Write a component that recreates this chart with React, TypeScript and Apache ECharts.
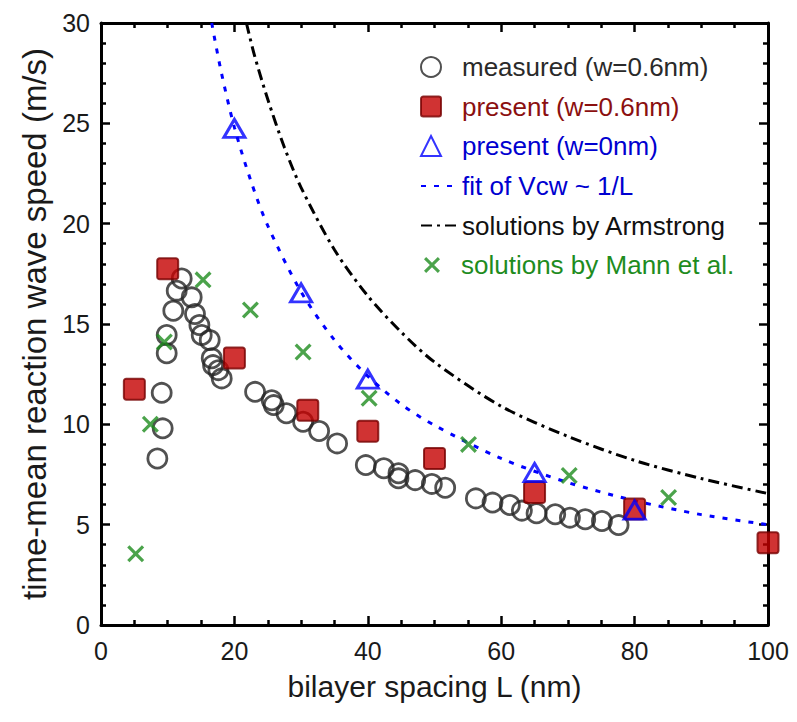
import React, { useEffect, useRef } from "react";
import * as echarts from "echarts";

const FONT = '"Liberation Sans", Arial, Helvetica, sans-serif';

// Measured wave speeds, w = 0.6 nm: [L (nm), V (m/s)]
const measured: [number, number][] = [
  [8.45, 8.3], [9.1, 11.57], [9.25, 9.8], [9.85, 14.45], [9.85, 13.54],
  [10.84, 15.66], [11.35, 16.66], [12.1, 17.27], [13.6, 16.33], [14.09, 15.5],
  [14.75, 14.95], [15.1, 14.45], [16.3, 14.2], [16.6, 13.29], [16.8, 12.95],
  [17.6, 12.7], [18.1, 12.29], [23.1, 11.62], [25.6, 11.2], [25.9, 10.96],
  [27.8, 10.55], [30.3, 10.13], [32.7, 9.67], [35.4, 9.05], [39.7, 7.97],
  [42.4, 7.81], [44.6, 7.56], [44.6, 7.31], [47.1, 7.22], [49.6, 7.03],
  [51.6, 6.84], [56.2, 6.31], [58.7, 6.1], [61.3, 5.98], [63.1, 5.7],
  [65.3, 5.57], [68.1, 5.52], [70.3, 5.35], [72.6, 5.27], [75.1, 5.18],
  [77.6, 4.98],
];

// Present model, w = 0.6 nm
const present06L = [5, 10, 20, 31, 40, 50, 65, 80, 100];
const present06V = [11.75, 17.75, 13.3, 10.7, 9.65, 8.3, 6.6, 5.78, 4.1];

// Present model, w = 0 nm
const present0L = [20, 30, 40, 65, 80];
const present0V = [24.75, 16.55, 12.25, 7.6, 5.73];

// Fit of Vcw ~ 1/L
const fitL = [16.6, 18, 20, 22.5, 25, 30, 35, 40, 45, 50, 60, 70, 80, 90, 100];
const fitV = [30, 27.6, 24.8, 22.1, 19.9, 16.6, 14.2, 12.4, 11.0, 9.95, 8.3, 7.1, 6.2, 5.5, 5.0];

// Solutions by Armstrong
const armL = [21.8, 23, 25, 27.5, 30, 35, 40, 45, 50, 60, 70, 80, 90, 100];
const armV = [30, 28.4, 26.2, 23.8, 21.8, 18.7, 16.4, 14.6, 13.1, 10.9, 9.4, 8.2, 7.3, 6.55];

// Solutions by Mann et al.
const mannL = [5.2, 7.4, 9.5, 15.3, 22.4, 30.3, 40.2, 55.1, 70.2, 85.1];
const mannV = [3.55, 10.0, 14.1, 17.2, 15.7, 13.6, 11.3, 9.0, 7.45, 6.35];

const xTicks = { min: 0, max: 100, interval: 20, minor: 4 };
const yTicks = { min: 0, max: 30, interval: 5, minor: 5 };

const zip = (a: number[], b: number[]) => a.map((v, i) => [v, b[i]]);

const NAMES = {
  measured: "measured (w=0.6nm)",
  p06: "present (w=0.6nm)",
  p0: "present (w=0nm)",
  fit: "fit of Vcw ~ 1/L",
  arm: "solutions by Armstrong",
  mann: "solutions by Mann et al.",
};

// Marker shapes
const SQUARE =
  "path://M2.5,0H19.5A2.5,2.5 0 0 1 22,2.5V19.5A2.5,2.5 0 0 1 19.5,22H2.5A2.5,2.5 0 0 1 0,19.5V2.5A2.5,2.5 0 0 1 2.5,0Z";
const CROSS =
  "path://M13.4,0L50,36.6L86.6,0L100,13.4L63.4,50L100,86.6L86.6,100L50,63.4L13.4,100L0,86.6L36.6,50L0,13.4Z";

const axisBase = () => ({
  type: "value" as const,
  axisLine: { show: true, onZero: false, lineStyle: { color: "#000", width: 3 } },
  axisTick: { show: true, inside: true, length: 9, lineStyle: { color: "#000", width: 2.5 } },
  minorTick: { show: true, length: 5, lineStyle: { color: "#000", width: 2.5 } },
  splitLine: { show: false },
  minorSplitLine: { show: false },
});

export default function App() {
  const ref = useRef<HTMLDivElement>(null);

  useEffect(() => {
    const chart = echarts.init(ref.current!, null, { renderer: "svg" });

    const xAxis = (pos: "bottom" | "top") => {
      const base = axisBase();
      return {
        ...base,
        position: pos,
        min: xTicks.min,
        max: xTicks.max,
        interval: xTicks.interval,
        minorTick: { ...base.minorTick, splitNumber: xTicks.minor },
        axisLabel: {
          show: pos === "bottom",
          fontSize: 25,
          color: "#1a1a1a",
          fontFamily: FONT,
          margin: 13,
        },
        ...(pos === "bottom"
          ? {
              name: "bilayer spacing L (nm)",
              nameLocation: "middle",
              nameGap: 46,
              nameTextStyle: { fontSize: 30, color: "#1a1a1a", fontFamily: FONT },
            }
          : {}),
      };
    };

    const yAxis = (pos: "left" | "right") => {
      const base = axisBase();
      return {
        ...base,
        position: pos,
        min: yTicks.min,
        max: yTicks.max,
        interval: yTicks.interval,
        minorTick: { ...base.minorTick, splitNumber: yTicks.minor },
        axisLabel: {
          show: pos === "left",
          fontSize: 25,
          color: "#1a1a1a",
          fontFamily: FONT,
          margin: 11,
        },
        ...(pos === "left"
          ? {
              name: "time-mean reaction wave speed (m/s)",
              nameLocation: "middle",
              nameGap: 50,
              nameTextStyle: { fontSize: 33, color: "#1a1a1a", fontFamily: FONT },
            }
          : {}),
      };
    };

    // One legend row per entry, so marker rows and line rows can use
    // different icon sizes while their texts stay aligned at x = 461.
    const legendRows = [
      { name: NAMES.measured, color: "#2a2a2a", kind: "marker" },
      { name: NAMES.p06, color: "#8b1010", kind: "marker" },
      { name: NAMES.p0, color: "#0000d0", kind: "marker" },
      { name: NAMES.fit, color: "#0000d0", kind: "line" },
      { name: NAMES.arm, color: "#111111", kind: "line" },
      { name: NAMES.mann, color: "#1e8c1e", kind: "cross" },
    ];
    const rowTops = [54, 93.5, 133, 173, 212.5, 252];
    const legend = legendRows.map((r, i) => {
      const isLine = r.kind === "line";
      const isCross = r.kind === "cross";
      return {
        orient: "vertical",
        left: isCross ? 424 : 420,
        top: rowTops[i],
        padding: 0,
        itemWidth: isLine ? 36 : isCross ? 16 : 20,
        itemHeight: isCross ? 16 : 20,
        selectedMode: false,
        textStyle: {
          fontSize: 26,
          lineHeight: 26,
          fontFamily: FONT,
          color: r.color,
          padding: isLine ? 0 : [0, 0, 0, 16],
        },
        data: [isLine ? { name: r.name, itemStyle: { opacity: 0 } } : { name: r.name }],
      };
    });

    const option = {
      animation: false,
      backgroundColor: "#fff",
      grid: { left: 101, right: 29, top: 23, bottom: 97, containLabel: false },
      xAxis: [xAxis("bottom"), xAxis("top")],
      yAxis: [yAxis("left"), yAxis("right")],
      legend,
      series: [
        {
          name: NAMES.measured,
          type: "scatter",
          data: measured,
          symbol: "circle",
          symbolSize: 19,
          itemStyle: { color: "transparent", borderColor: "#262626", borderWidth: 2.8 },
          z: 2,
        },
        {
          name: NAMES.p06,
          type: "scatter",
          data: zip(present06L, present06V),
          symbol: SQUARE,
          symbolSize: 21,
          itemStyle: { color: "#c40000", borderColor: "#760000", borderWidth: 2 },
          z: 3,
        },
        {
          name: NAMES.p0,
          type: "scatter",
          data: zip(present0L, present0V),
          symbol: "triangle",
          symbolSize: [21, 18],
          itemStyle: { color: "transparent", borderColor: "#0000ff", borderWidth: 3 },
          z: 4,
        },
        {
          name: NAMES.fit,
          type: "line",
          data: zip(fitL, fitV),
          smooth: 0.3,
          symbol: "none",
          lineStyle: { color: "#0000ff", width: 3, type: [5, 8] },
          itemStyle: { color: "#0000ff" },
          z: 3,
        },
        {
          name: NAMES.arm,
          type: "line",
          data: zip(armL, armV),
          smooth: 0.3,
          symbol: "none",
          lineStyle: { color: "#000", width: 3, type: [11, 5, 3, 5] },
          itemStyle: { color: "#000" },
          z: 3,
        },
        {
          name: NAMES.mann,
          type: "scatter",
          data: zip(mannL, mannV),
          symbol: CROSS,
          symbolSize: 17,
          itemStyle: { color: "#1e8c1e" },
          z: 5,
        },
      ],
    };

    chart.setOption(option as any);
    return () => chart.dispose();
  }, []);

  return (
    <div
      ref={ref}
      style={{ position: "absolute", left: 0, top: 0, width: 797, height: 722 }}
    />
  );
}
